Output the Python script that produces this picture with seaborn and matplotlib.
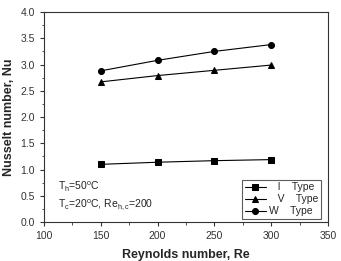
import matplotlib
matplotlib.use("Agg")
import matplotlib.pyplot as plt
import numpy as np
import pandas as pd
import seaborn as sns
from matplotlib.ticker import MultipleLocator

reynolds = [150, 200, 250, 300]
nu_i_type = [1.10, 1.14, 1.17, 1.19]
nu_v_type = [2.67, 2.79, 2.89, 2.99]
nu_w_type = [2.88, 3.08, 3.25, 3.38]
series_labels = ["   I    Type", "   V    Type", "W    Type"]


def build_frame() -> pd.DataFrame:
    parts = []
    for label, vals in zip(series_labels, [nu_i_type, nu_v_type, nu_w_type]):
        parts.append(pd.DataFrame({"Re": reynolds, "Nu": vals, "type": label}))
    return pd.concat(parts, ignore_index=True)


def main() -> None:
    sns.set_style("ticks")
    plt.rcParams["font.family"] = ["Liberation Sans", "DejaVu Sans"]
    plt.rcParams["mathtext.fontset"] = "custom"
    plt.rcParams["mathtext.rm"] = "Liberation Sans"
    plt.rcParams["mathtext.it"] = "Liberation Sans:italic"

    df = build_frame()

    fig = plt.figure(figsize=(3.41, 2.61), dpi=100)
    ax = fig.add_axes([0.129, 0.149, 0.833, 0.805])

    sns.lineplot(
        data=df, x="Re", y="Nu", hue="type", style="type",
        markers=["s", "^", "o"], dashes=False,
        palette=["black"] * 3, linewidth=0.8, markersize=4.3,
        markeredgecolor="black", ax=ax,
    )

    ax.set_xlim(100, 350)
    ax.set_ylim(0.0, 4.0)
    ax.xaxis.set_major_locator(MultipleLocator(50))
    ax.xaxis.set_minor_locator(MultipleLocator(25))
    ax.yaxis.set_major_locator(MultipleLocator(0.5))
    ax.yaxis.set_minor_locator(MultipleLocator(0.25))
    ax.yaxis.set_major_formatter(plt.FormatStrFormatter("%.1f"))
    ax.tick_params(which="major", length=3, width=0.8, labelsize=7.5, colors="#333333",
                   labelcolor="#333333")
    ax.tick_params(which="minor", length=1.8, width=0.6, colors="#333333")
    for s in ax.spines.values():
        s.set_linewidth(0.8)
        s.set_color("#333333")

    ax.set_xlabel("Reynolds number, Re", fontsize=9, fontweight="bold", labelpad=6)
    ax.set_ylabel("Nusselt number, Nu", fontsize=9, fontweight="bold", labelpad=4)

    ax.text(0.05, 0.167, r"T$_\mathrm{h}$=50$^\mathrm{o}$C", transform=ax.transAxes,
            fontsize=7.5, color="#222222", va="center")
    ax.text(0.05, 0.081, r"T$_\mathrm{c}$=20$^\mathrm{o}$C, Re$_\mathrm{h,c}$=200",
            transform=ax.transAxes, fontsize=7.5, color="#222222", va="center")

    leg = ax.legend(loc="lower right", fontsize=7.5, frameon=True, fancybox=False,
                    edgecolor="#333333", handlelength=2.0, handletextpad=0.3,
                    borderpad=0.25, labelspacing=0.2, borderaxespad=0,
                    bbox_to_anchor=(0.975, 0.015))
    leg.get_frame().set_linewidth(0.8)

    fig.savefig("out.png", dpi=100)
    plt.close(fig)


if __name__ == "__main__":
    main()
